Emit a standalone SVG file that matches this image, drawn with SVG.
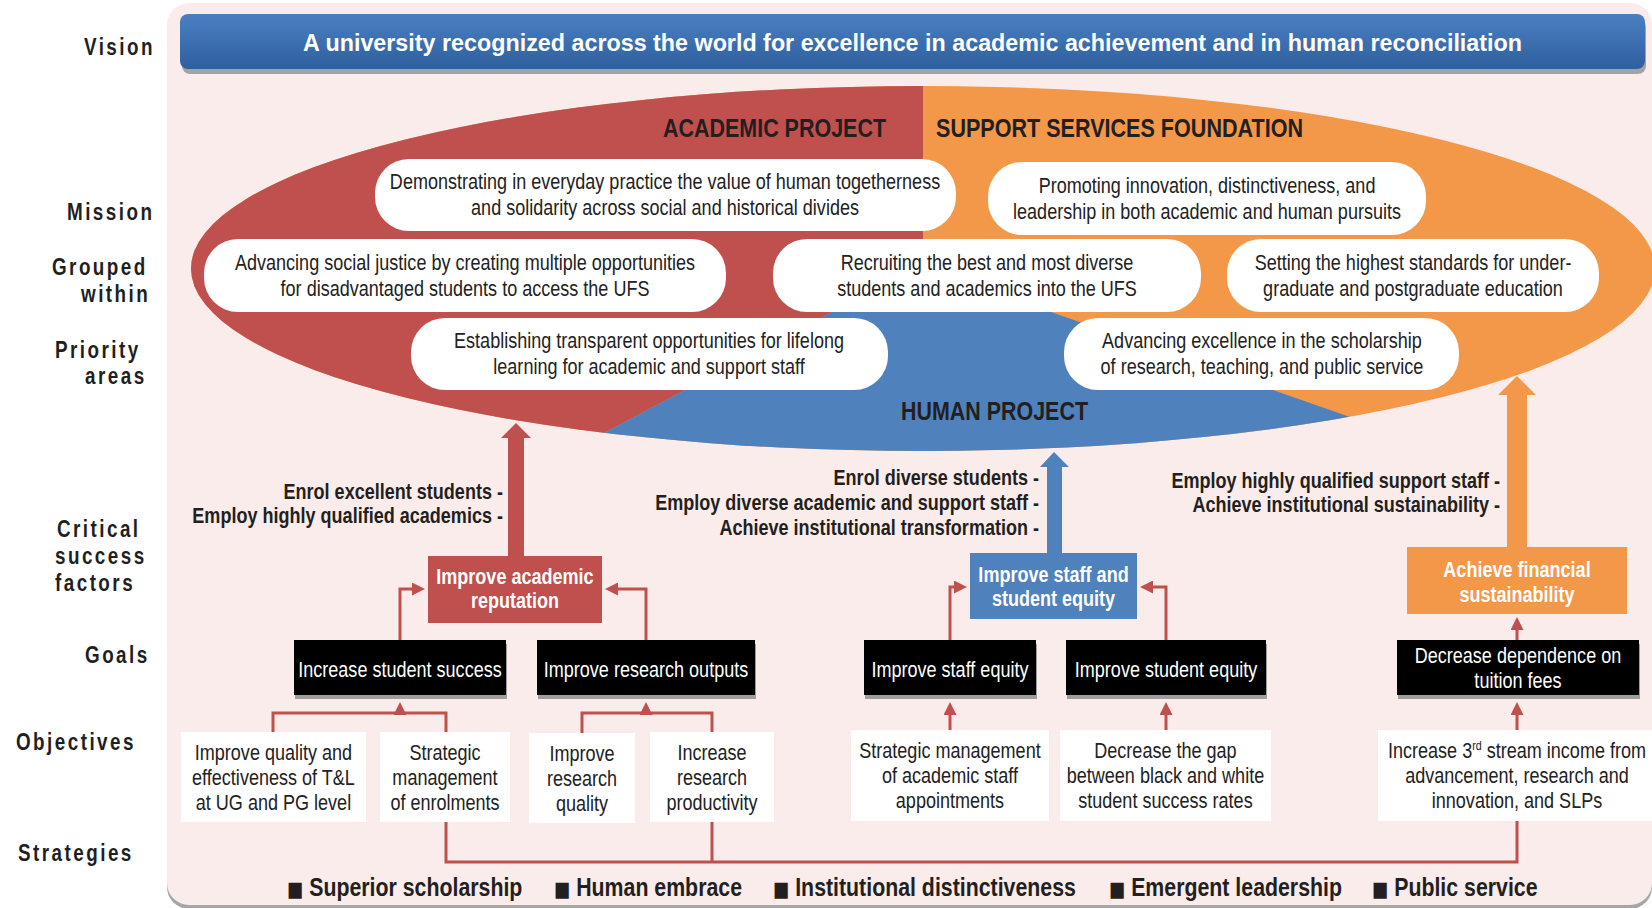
<svg xmlns="http://www.w3.org/2000/svg" width="1652" height="908" viewBox="0 0 1652 908">
<defs>
<style>
text{font-family:'Liberation Sans',Arial,sans-serif}
.n{transform:scale(0.82,1)}
.lbl{font-weight:bold;font-size:23px;letter-spacing:3px;fill:#1f1f1f}
.pill{fill:#ffffff}
.pt{font-size:22px;fill:#222;text-anchor:middle}
.proj{font-weight:bold;font-size:25px;fill:#231f20}
.csf{font-weight:bold;font-size:22px;fill:#231f20;text-anchor:end}
.bt{font-weight:bold;font-size:22px;fill:#fff;text-anchor:middle}
.goal{fill:#000}
.gsh{fill:#9e9e9e}
.gt{font-size:22px;fill:#fff;text-anchor:middle}
.obj{fill:#fff}
.ot{font-size:22px;fill:#222;text-anchor:middle}
.con{stroke:#c0504d;stroke-width:3;fill:none}
.st{font-weight:bold;font-size:26px;fill:#231f20}
.bul{font-family:'DejaVu Sans',sans-serif;font-size:21px}
</style>
<linearGradient id="vg" x1="0" y1="0" x2="0" y2="1">
<stop offset="0" stop-color="#4a80c2"/>
<stop offset="1" stop-color="#2e5f9e"/>
</linearGradient>
<clipPath id="ell"><ellipse cx="923" cy="268.5" rx="732" ry="182.5"/></clipPath>
<marker id="ah" viewBox="0 0 13 13" refX="8" refY="6.5" markerWidth="13" markerHeight="13" markerUnits="userSpaceOnUse" orient="auto">
<path d="M0,0 L13,6.5 L0,13 Z" fill="#c0504d"/>
</marker>
</defs>

<!-- background panel -->
<rect x="167" y="7" width="1485" height="902" rx="22" fill="#a6a6a6"/>
<rect x="167" y="3" width="1485" height="902" rx="22" fill="#f9ecea"/>

<!-- left labels -->
<g id="labels">
<text class="n lbl" x="102.4" y="55">Vision</text>
<text class="n lbl" x="81.7" y="220">Mission</text>
<text class="n lbl" x="63.4" y="275">Grouped</text>
<text class="n lbl" x="98.8" y="302">within</text>
<text class="n lbl" x="67.1" y="358">Priority</text>
<text class="n lbl" x="103.7" y="384">areas</text>
<text class="n lbl" x="69.5" y="537">Critical</text>
<text class="n lbl" x="67.1" y="564">success</text>
<text class="n lbl" x="67.1" y="591">factors</text>
<text class="n lbl" x="103.7" y="663">Goals</text>
<text class="n lbl" x="19.5" y="750">Objectives</text>
<text class="n lbl" x="22" y="861">Strategies</text>
</g>

<!-- vision -->
<g id="vision">
<rect x="182" y="19" width="1464" height="55" rx="8" fill="#a3a3a3"/>
<rect x="180" y="14" width="1465" height="55" rx="8" fill="url(#vg)"/>
<text x="303" y="51" font-weight="bold" font-size="23.5" fill="#fff" textLength="1219" lengthAdjust="spacingAndGlyphs">A university recognized across the world for excellence in academic achievement and in human reconciliation</text>
</g>

<!-- ellipse -->
<g id="ellipse">
<ellipse cx="923" cy="268.5" rx="732" ry="182.5" fill="#f39749"/>
<g clip-path="url(#ell)">
<path d="M923,80 L923,312 L832,312 L604,433 L604,470 L180,470 L180,80 Z" fill="#c0504d"/>
<path d="M832,312 L1051,312 L1350,417 L1350,470 L604,470 L604,433 Z" fill="#4f81bd"/>
</g>
<text class="proj" x="663" y="137" textLength="223" lengthAdjust="spacingAndGlyphs">ACADEMIC PROJECT</text>
<text class="proj" x="936" y="137" textLength="367" lengthAdjust="spacingAndGlyphs">SUPPORT SERVICES FOUNDATION</text>
<text class="proj" x="901" y="420" textLength="187" lengthAdjust="spacingAndGlyphs">HUMAN PROJECT</text>
</g>

<!-- pills -->
<g id="p1"><rect class="pill" x="375" y="159" width="581" height="72" rx="34"/>
<text class="n pt" x="811" y="189">Demonstrating in everyday practice the value of human togetherness</text>
<text class="n pt" x="811" y="215">and solidarity across social and historical divides</text></g>
<g id="p2"><rect class="pill" x="988" y="162" width="438" height="73" rx="34"/>
<text class="n pt" x="1472" y="193">Promoting innovation, distinctiveness, and</text>
<text class="n pt" x="1472" y="219">leadership in both academic and human pursuits</text></g>
<g id="p3"><rect class="pill" x="204" y="239" width="522" height="73" rx="34"/>
<text class="n pt" x="567.1" y="270">Advancing social justice by creating multiple opportunities</text>
<text class="n pt" x="567.1" y="296">for disadvantaged students to access the UFS</text></g>
<g id="p4"><rect class="pill" x="773" y="239" width="428" height="73" rx="34"/>
<text class="n pt" x="1203.7" y="270">Recruiting the best and most diverse</text>
<text class="n pt" x="1203.7" y="296">students and academics into the UFS</text></g>
<g id="p5"><rect class="pill" x="1227" y="239" width="372" height="73" rx="34"/>
<text class="n pt" x="1723.2" y="270">Setting the highest standards for under-</text>
<text class="n pt" x="1723.2" y="296">graduate and postgraduate education</text></g>
<g id="p6"><rect class="pill" x="411" y="318" width="477" height="72" rx="34"/>
<text class="n pt" x="791.5" y="348">Establishing transparent opportunities for lifelong</text>
<text class="n pt" x="791.5" y="374">learning for academic and support staff</text></g>
<g id="p7"><rect class="pill" x="1064" y="318" width="395" height="72" rx="34"/>
<text class="n pt" x="1539" y="348">Advancing excellence in the scholarship</text>
<text class="n pt" x="1539" y="374">of research, teaching, and public service</text></g>

<!-- big arrows -->
<g id="bigarrows">
<polygon points="508,557 508,438 501,438 516,423 531,438 524,438 524,557" fill="#c0504d"/>
<polygon points="1047,554 1047,467 1040,467 1054,452 1069,467 1062,467 1062,554" fill="#4f81bd"/>
<polygon points="1507,548 1507,395 1498,395 1517,376 1536,395 1527,395 1527,548" fill="#f39749"/>
</g>

<!-- CSF texts -->
<g id="csf-text">
<text class="n csf" x="613.4" y="499">Enrol excellent students -</text>
<text class="n csf" x="613.4" y="523">Employ highly qualified academics -</text>
<text class="n csf" x="1267.1" y="485">Enrol diverse students -</text>
<text class="n csf" x="1267.1" y="510">Employ diverse academic and support staff -</text>
<text class="n csf" x="1267.1" y="535">Achieve institutional transformation -</text>
<text class="n csf" x="1829.3" y="488">Employ highly qualified support staff -</text>
<text class="n csf" x="1829.3" y="512">Achieve institutional sustainability -</text>
</g>

<!-- CSF boxes -->
<g id="csf1"><rect x="428" y="556" width="174" height="67" fill="#c0504d"/>
<text class="n bt" x="628" y="584">Improve academic</text>
<text class="n bt" x="628" y="608">reputation</text></g>
<g id="csf2"><rect x="970" y="553" width="167" height="66" fill="#4f81bd"/>
<text class="n bt" x="1284.8" y="582">Improve staff and</text>
<text class="n bt" x="1284.8" y="606">student equity</text></g>
<g id="csf3"><rect x="1407" y="547" width="220" height="67" fill="#f39749"/>
<text class="n bt" x="1850" y="577">Achieve financial</text>
<text class="n bt" x="1850" y="602">sustainability</text></g>

<!-- connectors -->
<g id="connectors">
<path class="con" d="M400,640 V589 H420" marker-end="url(#ah)"/>
<path class="con" d="M646,640 V589 H610" marker-end="url(#ah)"/>
<path class="con" d="M950,640 V587 H962" marker-end="url(#ah)"/>
<path class="con" d="M1166,640 V587 H1145" marker-end="url(#ah)"/>
<path class="con" d="M1517,640 V622" marker-end="url(#ah)"/>
<path class="con" d="M273,732 V713 H446 V732"/>
<path class="con" d="M400,713 V707" marker-end="url(#ah)"/>
<path class="con" d="M582,733 V713 H712 V732"/>
<path class="con" d="M646,713 V707" marker-end="url(#ah)"/>
<path class="con" d="M950,730 V707" marker-end="url(#ah)"/>
<path class="con" d="M1166,730 V707" marker-end="url(#ah)"/>
<path class="con" d="M1517,730 V707" marker-end="url(#ah)"/>
<path class="con" d="M446,822 V862 H1517 V821"/>
<path class="con" d="M712,822 V862"/>
</g>

<!-- goals -->
<g id="g1"><rect class="gsh" x="295" y="644" width="212" height="55"/><rect class="goal" x="294" y="640" width="212" height="55"/>
<text class="n gt" x="487.8" y="677">Increase student success</text></g>
<g id="g2"><rect class="gsh" x="538" y="644" width="218" height="55"/><rect class="goal" x="537" y="640" width="218" height="55"/>
<text class="n gt" x="787.8" y="677">Improve research outputs</text></g>
<g id="g3"><rect class="gsh" x="865" y="644" width="172" height="55"/><rect class="goal" x="864" y="640" width="172" height="55"/>
<text class="n gt" x="1158.5" y="677">Improve staff equity</text></g>
<g id="g4"><rect class="gsh" x="1067" y="644" width="200" height="55"/><rect class="goal" x="1066" y="640" width="200" height="55"/>
<text class="n gt" x="1422" y="677">Improve student equity</text></g>
<g id="g5"><rect class="gsh" x="1398" y="644" width="242" height="55"/><rect class="goal" x="1397" y="640" width="242" height="55"/>
<text class="n gt" x="1851.2" y="663">Decrease dependence on</text>
<text class="n gt" x="1851.2" y="688">tuition fees</text></g>

<!-- objectives -->
<g id="o1"><rect class="obj" x="181" y="732" width="185" height="90"/>
<text class="n ot" x="333.5" y="760">Improve quality and</text>
<text class="n ot" x="333.5" y="785">effectiveness of T&amp;L</text>
<text class="n ot" x="333.5" y="810">at UG and PG level</text></g>
<g id="o2"><rect class="obj" x="380" y="732" width="130" height="90"/>
<text class="n ot" x="542.7" y="760">Strategic</text>
<text class="n ot" x="542.7" y="785">management</text>
<text class="n ot" x="542.7" y="810">of enrolments</text></g>
<g id="o3"><rect class="obj" x="529" y="733" width="106" height="90"/>
<text class="n ot" x="709.8" y="761">Improve</text>
<text class="n ot" x="709.8" y="786">research</text>
<text class="n ot" x="709.8" y="811">quality</text></g>
<g id="o4"><rect class="obj" x="650" y="732" width="124" height="90"/>
<text class="n ot" x="868.3" y="760">Increase</text>
<text class="n ot" x="868.3" y="785">research</text>
<text class="n ot" x="868.3" y="810">productivity</text></g>
<g id="o5"><rect class="obj" x="851" y="730" width="198" height="91"/>
<text class="n ot" x="1158.5" y="758">Strategic management</text>
<text class="n ot" x="1158.5" y="783">of academic staff</text>
<text class="n ot" x="1158.5" y="808">appointments</text></g>
<g id="o6"><rect class="obj" x="1060" y="730" width="211" height="91"/>
<text class="n ot" x="1421.3" y="758">Decrease the gap</text>
<text class="n ot" x="1421.3" y="783">between black and white</text>
<text class="n ot" x="1421.3" y="808">student success rates</text></g>
<g id="o7"><rect class="obj" x="1378" y="730" width="278" height="91"/>
<text class="n ot" x="1850" y="758">Increase 3<tspan font-size="13" dy="-8">rd</tspan><tspan dy="8"> stream income from</tspan></text>
<text class="n ot" x="1850" y="783">advancement, research and</text>
<text class="n ot" x="1850" y="808">innovation, and SLPs</text></g>

<!-- strategies -->
<g id="strategies">
<text class="n st" x="350" y="896"><tspan class="bul">■</tspan> Superior scholarship</text>
<text class="n st" x="675.6" y="896"><tspan class="bul">■</tspan> Human embrace</text>
<text class="n st" x="942.7" y="896"><tspan class="bul">■</tspan> Institutional distinctiveness</text>
<text class="n st" x="1352.4" y="896"><tspan class="bul">■</tspan> Emergent leadership</text>
<text class="n st" x="1673.2" y="896"><tspan class="bul">■</tspan> Public service</text>
</g>
</svg>
